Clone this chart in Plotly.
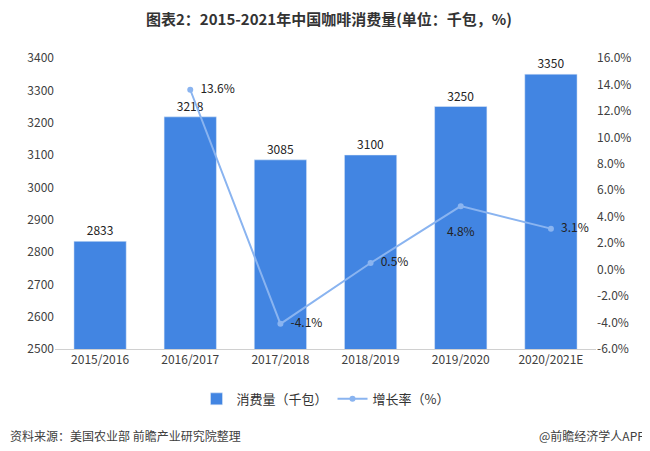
import plotly.graph_objects as go

years = ['2015/2016', '2016/2017', '2017/2018', '2018/2019', '2019/2020', '2020/2021E']
consumption = [2833, 3218, 3085, 3100, 3250, 3350]
growth_years = years[1:]
growth = [13.6, -4.1, 0.5, 4.8, 3.1]

left_ticks = list(range(2500, 3401, 100))
right_ticks = list(range(-6, 17, 2))

font_cn = 'Noto Sans CJK SC, Microsoft YaHei, sans-serif'

bars = go.Bar(
    x=years, y=consumption,
    name='消费量（千包）',
    marker_color='#4285e2',
    width=0.58,
    text=[str(v) for v in consumption],
    textposition='outside',
    textfont=dict(size=12, color='#222222'),
    cliponaxis=False,
)

# labels sit a little to the right of the markers, 4.8% further below
labels = [f'  {v:.1f}%' for v in growth]
labels[3] = f'<br>{growth[3]:.1f}%'
line = go.Scatter(
    x=growth_years, y=growth,
    name='增长率（%）',
    yaxis='y2',
    mode='lines+markers+text',
    line=dict(color='#8ab4f0', width=2),
    marker=dict(size=6, color='#8ab4f0'),
    text=labels,
    textposition=['middle right', 'middle right', 'middle right', 'bottom center', 'middle right'],
    textfont=dict(size=12, color='#222222'),
    cliponaxis=False,
)

fig = go.Figure(data=[bars, line])

# the page body adds an 8px margin, so the figure is a little smaller than the window
fig.update_layout(
    width=642, height=443,
    margin=dict(l=47, r=54, t=50, b=102),
    paper_bgcolor='white', plot_bgcolor='white',
    font=dict(family=font_cn, size=12, color='#404040'),
    title=dict(
        text='<b>图表2：2015-2021年中国咖啡消费量(单位：千包，%)</b>',
        x=0.5, xanchor='center', y=0.973, yanchor='middle',
        font=dict(size=15, color='#333333'),
    ),
    showlegend=True,
    legend=dict(
        orientation='h', x=0.5, xanchor='center', y=-0.12, yanchor='top',
        font=dict(size=13, color='#333333'),
    ),
    xaxis=dict(
        type='category', showline=True, linecolor='#d0d0d0', linewidth=1,
        ticks='', showgrid=False, tickfont=dict(size=12, color='#404040'),
    ),
    yaxis=dict(
        range=[2500, 3400], tickvals=left_ticks, showgrid=False,
        zeroline=False, ticks='', tickfont=dict(size=12, color='#404040'),
    ),
    yaxis2=dict(
        overlaying='y', side='right', range=[-6, 16], tickvals=right_ticks,
        ticktext=[f'{v:.1f}%' for v in right_ticks], showgrid=False,
        zeroline=False, ticks='', tickfont=dict(size=12, color='#404040'),
    ),
    annotations=[
        dict(text='资料来源：美国农业部 前瞻产业研究院整理', xref='paper', yref='paper',
             x=-0.087, y=-0.296, xanchor='left', yanchor='middle', showarrow=False,
             font=dict(size=12, color='#404040')),
        dict(text='@前瞻经济学人APP', xref='paper', yref='paper',
             x=1.094, y=-0.296, xanchor='right', yanchor='middle', showarrow=False,
             font=dict(size=12, color='#404040')),
    ],
)

fig.write_html('out.html')
